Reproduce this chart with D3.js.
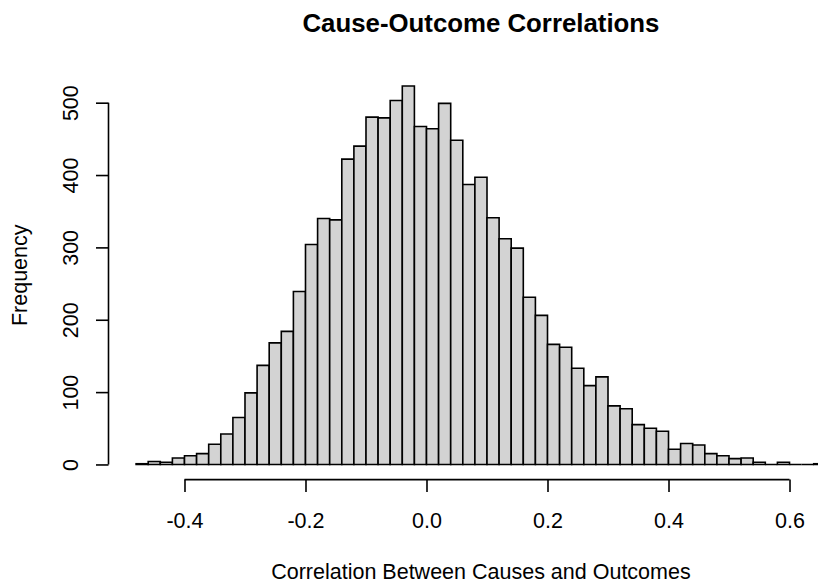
<!DOCTYPE html>
<html>
<head>
<meta charset="utf-8">
<script src="https://cdn.jsdelivr.net/npm/d3@7"></script>
<style>
  html, body { margin: 0; padding: 0; background: #ffffff; }
  svg { display: block; }
  text { font-family: "Liberation Sans", Arial, Helvetica, sans-serif; fill: #000; }
</style>
</head>
<body>
<svg id="chart" width="818" height="584"></svg>
<script>
// Histogram of cause-outcome correlations: bins of width 0.02 starting at -0.48
const binStart = -0.48;
const binWidth = 0.02;
const counts = [
  1, 4, 3, 9, 12, 15, 28, 42, 65, 99,
  137, 168, 184, 239, 304, 340, 338, 422, 440, 480,
  479, 503, 523, 467, 464, 499, 448, 387, 397, 341,
  312, 299, 231, 206, 166, 162, 133, 109, 121, 81,
  77, 55, 50, 46, 21, 29, 27, 15, 12, 8,
  9, 3, 0, 3, 0, 0, 1
];
const xTicks = [-0.4, -0.2, 0.0, 0.2, 0.4, 0.6];
const yTicks = [0, 100, 200, 300, 400, 500];

const titleText = "Cause-Outcome Correlations";
const xLabelText = "Correlation Between Causes and Outcomes";
const yLabelText = "Frequency";

const bins = counts.map((c, i) => ({
  x0: binStart + i * binWidth,
  x1: binStart + (i + 1) * binWidth,
  count: c
}));

// Plot region (axis ranges padded by 4% like a classic base-graphics plot)
const plot = { left: 108.5, right: 853.4, top: 70.9, bottom: 479.6 };
const xMin = bins[0].x0, xMax = bins[bins.length - 1].x1;
const xPad = 0.04 * (xMax - xMin);
const yMax = d3.max(counts);
const yPad = 0.04 * yMax;

const x = d3.scaleLinear().domain([xMin - xPad, xMax + xPad]).range([plot.left, plot.right]);
const y = d3.scaleLinear().domain([-yPad, yMax + yPad]).range([plot.bottom, plot.top]);

const svg = d3.select("#chart");
const baseFont = 21.5;

// Bars drawn as closed outlines so empty bins still show along the baseline
svg.append("g")
  .selectAll("path")
  .data(bins)
  .join("path")
  .attr("d", d => {
    const p = d3.path();
    p.moveTo(x(d.x0), y(0));
    p.lineTo(x(d.x0), y(d.count));
    p.lineTo(x(d.x1), y(d.count));
    p.lineTo(x(d.x1), y(0));
    p.closePath();
    return p.toString();
  })
  .attr("fill", "#d3d3d3")
  .attr("stroke", "#000")
  .attr("stroke-width", 1.6)
  .attr("stroke-linejoin", "miter");

const tickLen = 12.5;

// X axis
const xAxis = svg.append("g")
  .attr("transform", `translate(0,${plot.bottom})`)
  .call(d3.axisBottom(x).tickValues(xTicks).tickSize(tickLen).tickSizeOuter(0)
    .tickFormat(d3.format(".1f")).tickPadding(0));
xAxis.select(".domain").remove();
xAxis.append("line")
  .attr("x1", x(xTicks[0])).attr("x2", x(xTicks[xTicks.length - 1]))
  .attr("y1", 0).attr("y2", 0)
  .attr("stroke", "#000").attr("stroke-width", 1.6);
xAxis.selectAll(".tick line").attr("stroke", "#000").attr("stroke-width", 1.6);
xAxis.selectAll(".tick text")
  .attr("y", 48.5).attr("dy", null)
  .attr("font-size", baseFont)
  .style("font-family", "'Liberation Sans', Arial, sans-serif")
  .text(d => d3.format(".1f")(d).replace("−", "-"));

// Y axis
const yAxis = svg.append("g")
  .attr("transform", `translate(${plot.left},0)`)
  .call(d3.axisLeft(y).tickValues(yTicks).tickSize(tickLen).tickSizeOuter(0).tickPadding(0));
yAxis.select(".domain").remove();
yAxis.append("line")
  .attr("x1", 0).attr("x2", 0)
  .attr("y1", y(yTicks[0])).attr("y2", y(yTicks[yTicks.length - 1]))
  .attr("stroke", "#000").attr("stroke-width", 1.6);
yAxis.selectAll(".tick line").attr("stroke", "#000").attr("stroke-width", 1.6);
yAxis.selectAll(".tick text")
  .attr("x", null).attr("dy", null)
  .attr("transform", "translate(-31,0) rotate(-90)")
  .attr("text-anchor", "middle")
  .attr("font-size", baseFont)
  .style("font-family", "'Liberation Sans', Arial, sans-serif");

// Title and axis labels
const centerX = (plot.left + plot.right) / 2;
svg.append("text")
  .attr("x", centerX).attr("y", 31.5)
  .attr("text-anchor", "middle")
  .attr("font-size", baseFont * 1.2).attr("font-weight", "bold")
  .text(titleText);

svg.append("text")
  .attr("x", centerX).attr("y", 579)
  .attr("text-anchor", "middle")
  .attr("font-size", baseFont)
  .text(xLabelText);

svg.append("text")
  .attr("transform", `translate(26.5,${(plot.top + plot.bottom) / 2}) rotate(-90)`)
  .attr("text-anchor", "middle")
  .attr("font-size", baseFont)
  .text(yLabelText);
</script>
</body>
</html>
